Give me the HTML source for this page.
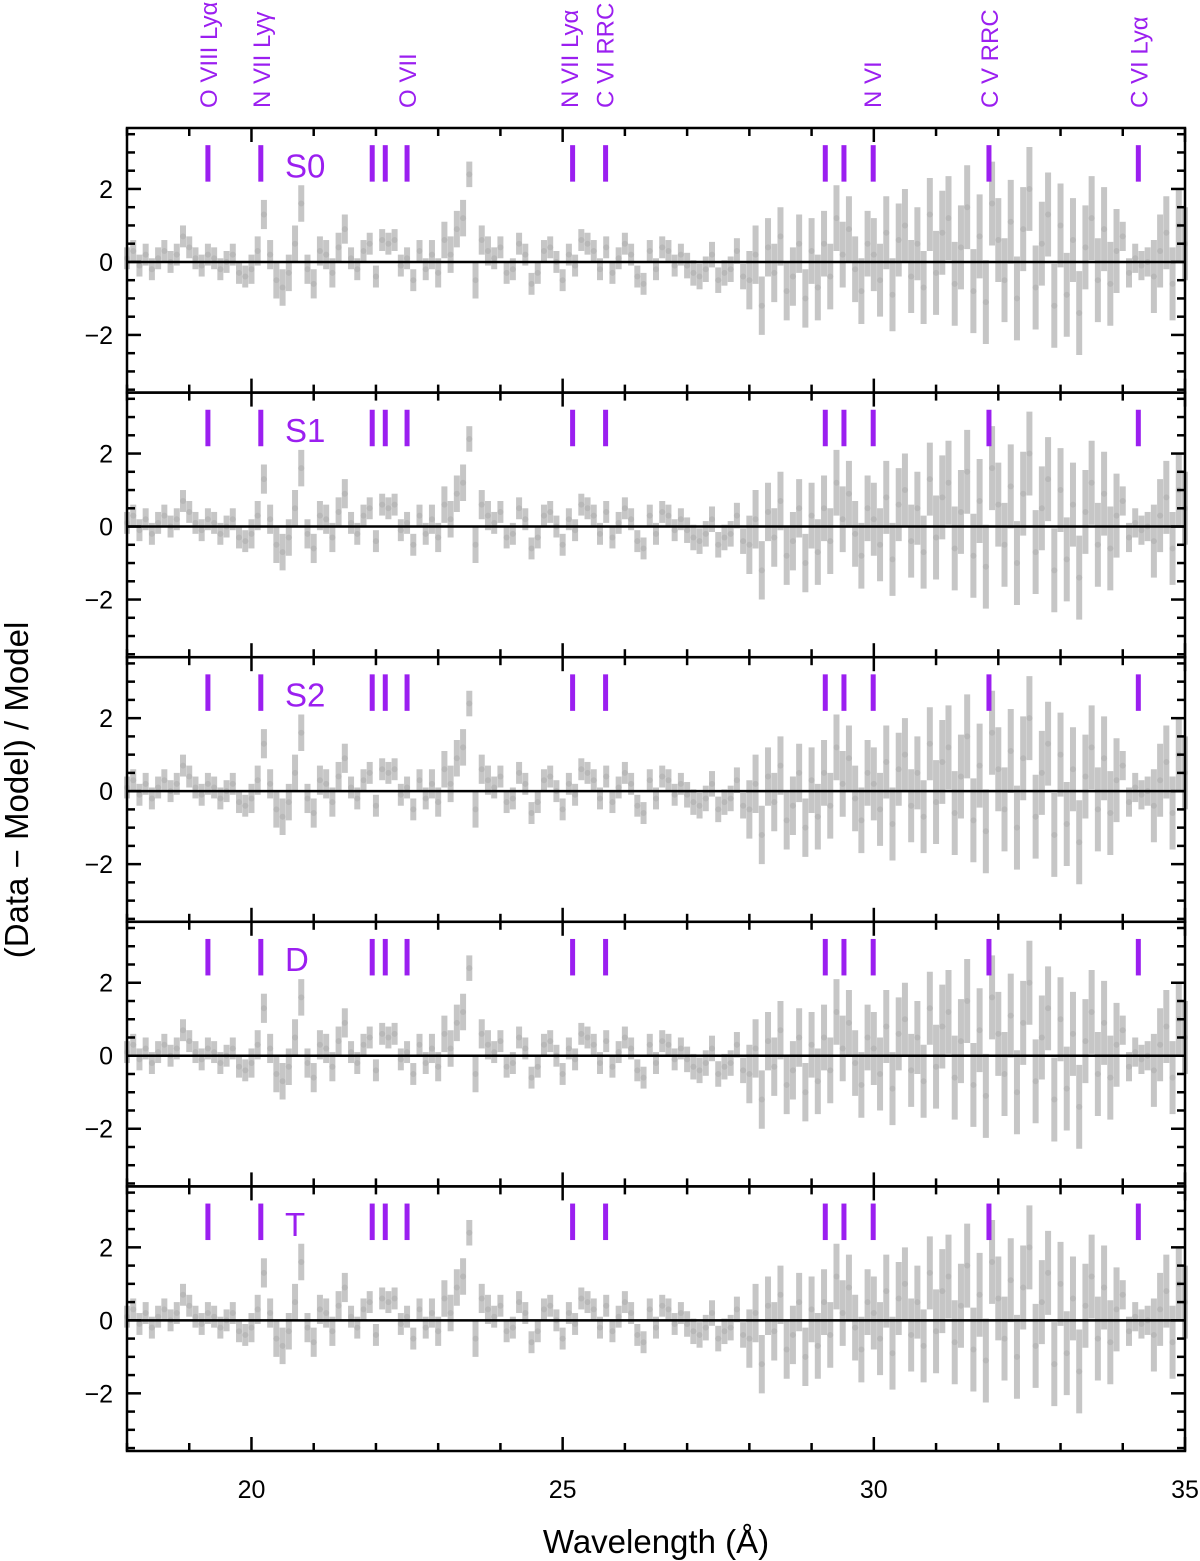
<!DOCTYPE html>
<html><head><meta charset="utf-8"><style>
body{margin:0;background:#fff;}
svg{display:block;font-family:"Liberation Sans",sans-serif;}
</style></head><body>
<svg id="chart" width="1200" height="1561" xmlns="http://www.w3.org/2000/svg"></svg>
<script>
const panelNames = ["S0","S1","S2","D","T"];
const lineWaves = [19.3,20.15,21.94,22.15,22.5,25.16,25.69,29.22,29.52,29.99,31.85,34.25];
const lineLabels = ["O VIII Lyα","N VII Lyγ","O VII","N VII Lyα","C VI RRC","N VI","C V RRC","C VI Lyα"];
const lineLabelWaves = [19.3,20.15,22.5,25.1,25.67,29.97,31.85,34.25];
const xTicks = [20,25,30,35];
const yTicks = [-2,0,2];
const waveStart = 18.0, waveStep = 0.1;
const residuals = [
0.1,0.3,-0.1,0.2,-0.2,0.1,0.3,0.0,0.2,0.7,
0.4,0.1,-0.1,0.2,0.1,-0.2,0.0,0.2,-0.3,-0.4,
-0.2,0.3,1.3,0.2,-0.5,-0.7,-0.3,0.5,1.6,-0.2,
-0.6,0.3,0.2,-0.3,0.4,0.9,0.1,-0.2,0.3,0.5,
-0.4,0.6,0.5,0.6,-0.1,0.1,-0.5,0.3,-0.2,0.2,
-0.3,0.6,0.2,0.9,1.2,2.4,-0.5,0.6,0.3,0.1,
0.4,-0.3,-0.2,0.5,0.2,-0.6,-0.3,0.3,0.4,0.0,
-0.5,0.2,-0.1,0.6,0.5,0.3,-0.2,0.4,-0.3,0.1,
0.5,0.2,-0.4,-0.6,0.3,-0.2,0.4,0.3,-0.1,0.2,
-0.1,-0.3,-0.4,-0.2,0.2,-0.5,-0.3,-0.2,0.3,-0.4,
-0.5,0.2,-1.2,0.4,-0.3,0.7,-0.8,-0.4,0.5,-1.0,
0.3,-0.7,0.5,-0.4,1.2,0.2,0.9,-0.2,-0.8,0.5,
0.2,-0.5,0.8,-0.9,0.6,1.0,-0.4,0.5,-0.7,1.3,
-0.3,0.8,1.2,-0.6,0.4,1.5,-0.8,0.7,-1.1,1.6,
0.6,-0.5,1.1,-1.0,0.9,2.0,-0.7,0.5,1.3,-1.2,
1.0,-0.9,0.6,-1.4,0.4,1.2,-0.5,0.9,-0.6,0.3,
0.7,-0.3,0.1,-0.1,0.0,-0.4,0.3,0.8,-0.6,1.0,
0.5];
const errors = [
0.3,0.3,0.3,0.3,0.3,0.3,0.3,0.3,0.3,0.3,
0.3,0.3,0.3,0.3,0.3,0.3,0.3,0.3,0.3,0.3,
0.4,0.4,0.4,0.4,0.5,0.5,0.5,0.5,0.5,0.4,
0.4,0.4,0.4,0.4,0.4,0.4,0.3,0.3,0.3,0.3,
0.3,0.3,0.3,0.3,0.3,0.3,0.3,0.3,0.3,0.4,
0.4,0.5,0.5,0.5,0.5,0.35,0.5,0.4,0.4,0.3,
0.3,0.3,0.3,0.3,0.3,0.3,0.3,0.3,0.3,0.3,
0.3,0.3,0.3,0.3,0.3,0.3,0.3,0.3,0.3,0.3,
0.3,0.3,0.3,0.3,0.3,0.3,0.3,0.3,0.3,0.3,
0.35,0.35,0.35,0.35,0.35,0.35,0.35,0.35,0.35,0.35,
0.8,0.8,0.8,0.8,0.8,0.8,0.8,0.8,0.8,0.8,
0.9,0.9,0.9,0.9,0.9,0.9,0.9,0.9,0.9,0.9,
1.0,1.0,1.0,1.0,1.0,1.0,1.0,1.0,1.0,1.0,
1.15,1.15,1.15,1.15,1.15,1.15,1.15,1.15,1.15,1.15,
1.15,1.15,1.15,1.15,1.15,1.15,1.15,1.15,1.15,1.15,
1.15,1.15,1.15,1.15,1.15,1.15,1.15,1.15,1.15,1.15,
0.4,0.4,0.4,0.4,0.4,1.0,1.0,1.0,1.0,1.0,
1.0];

const NS="http://www.w3.org/2000/svg";
const svg=document.getElementById('chart');
const L=127,R=1185,TOP=128,PH=264.6;
const xMin=18,xMax=35,yMin=-3.58,yMax=3.67;
const PURPLE="#9b1ff0";
function xs(w){return L+(w-xMin)/(xMax-xMin)*(R-L);}
function ys(v,p){const t=TOP+p*PH;return t+(yMax-v)/(yMax-yMin)*PH;}
function mk(tag,attrs,parent){const e=document.createElementNS(NS,tag);for(const k in attrs)e.setAttribute(k,attrs[k]);(parent||svg).appendChild(e);return e;}

panelNames.forEach((name,p)=>{
  const g=mk('g',{});
  
  
  const top=TOP+p*PH, bot=top+PH;
  residuals.forEach((v,i)=>{
    const w=waveStart+i*waveStep;
    if(w>xMax+1e-6)return;
    const e=errors[i];
    const bar=mk('line',{x1:xs(w),x2:xs(w),y1:Math.max(top,ys(v+e,p)),y2:Math.min(bot,ys(v-e,p)),stroke:'#c6c6c6','stroke-width':6},g);
    
    
    const pt=mk('circle',{cx:xs(w),cy:ys(v,p),r:3,fill:'#b8b8b8'},g);
    
    
  });
  const zl=mk('line',{x1:L,x2:R,y1:ys(0,p),y2:ys(0,p),stroke:'#000','stroke-width':2.5},g);
  
  
  lineWaves.forEach(w=>{
    const m=mk('line',{x1:xs(w),x2:xs(w),y1:ys(3.2,p),y2:ys(2.2,p),stroke:PURPLE,'stroke-width':5},g);
    
    
  });
  const lab=mk('text',{x:285,y:ys(2.7,p)+14,'font-size':33,fill:PURPLE},g);
  lab.textContent=name;
  
  
  for(let w=18;w<=35;w++){
    const maj=w%5===0, len=maj?14:8;
    mk('line',{x1:xs(w),x2:xs(w),y1:top,y2:top+len,stroke:'#000','stroke-width':2.5},g);
    mk('line',{x1:xs(w),x2:xs(w),y1:bot,y2:bot-len,stroke:'#000','stroke-width':2.5},g);
  }
  for(let v=-3.5;v<=3.5;v+=0.5){
    const maj=Math.abs(v%2)<1e-6, len=maj?14:8;
    mk('line',{x1:L,x2:L+len,y1:ys(v,p),y2:ys(v,p),stroke:'#000','stroke-width':2.5},g);
    mk('line',{x1:R,x2:R-len,y1:ys(v,p),y2:ys(v,p),stroke:'#000','stroke-width':2.5},g);
  }
  yTicks.forEach(v=>{
    const t=mk('text',{x:113,y:ys(v,p)+9,'font-size':25,'text-anchor':'end',fill:'#000'},g);
    t.textContent=v<0?'−'+Math.abs(v):String(v);
    
    
  });
  const fr=mk('rect',{x:L,y:top,width:R-L,height:PH,fill:'none',stroke:'#000','stroke-width':2.5},g);
  
  
});

xTicks.forEach(w=>{
  const t=mk('text',{x:xs(w),y:1498,'font-size':25,'text-anchor':'middle',fill:'#000'});
  t.textContent=String(w);
  
  
});
lineLabels.forEach((s,i)=>{
  const x=xs(lineLabelWaves[i])+9;
  const t=mk('text',{x:x,y:108,'font-size':24,fill:PURPLE,transform:`rotate(-90 ${x} 108)`});
  t.textContent=s;
  
  
});
const xt=mk('text',{x:656,y:1553,'font-size':33,'text-anchor':'middle',fill:'#000'});
xt.textContent='Wavelength (Å)';


const yt=mk('text',{x:28,y:790,'font-size':33,'text-anchor':'middle',fill:'#000',transform:'rotate(-90 28 790)'});
yt.textContent='(Data − Model) / Model';


</script>
</body></html>
